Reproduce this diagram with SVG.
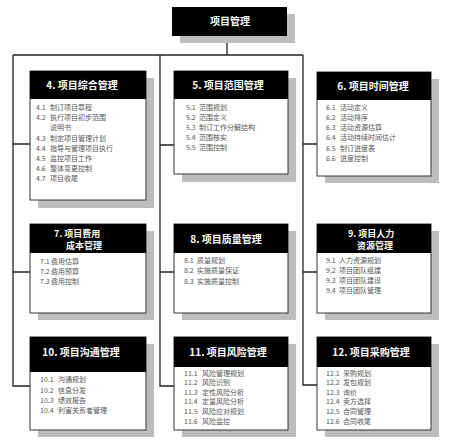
<svg xmlns="http://www.w3.org/2000/svg" width="450" height="447" viewBox="0 0 450 447">
<style>
.sh{fill:#bdbdbd}
.bd{fill:#fff;stroke:#333;stroke-width:1}
.hd{fill:#000}
.ht{font-family:"Noto Sans CJK SC","Noto Sans",sans-serif;font-size:10px;font-weight:bold;fill:#fff}
.h2{font-size:9px}
.it{font-family:"Noto Sans CJK SC","Noto Sans",sans-serif;font-size:7px;fill:#555}
.cn{fill:none;stroke:#222;stroke-width:1.3}
</style>
<rect width="450" height="447" fill="#fff"/>
<g id="connectors" class="cn">
<path d="M227,36V55M13,55H303"/>
<path d="M13,55V386H30M13,144H30M13,272H30"/>
<path d="M160,55V386H174M160,145H174M160,272H174"/>
<path d="M303,55V385H317M303,144H317M303,272H317"/>
</g>
<g id="root">
<rect class="sh" x="180" y="14" width="115" height="29"/>
<rect class="hd" x="172" y="7" width="115" height="29"/>
<text class="ht" x="230" y="25" text-anchor="middle" font-size="9">项目管理</text>
</g>
<g id="n4">
<rect class="sh" x="38" y="78" width="116" height="130"/>
<rect class="bd" x="30" y="71" width="116" height="129"/>
<rect class="hd" x="30" y="71" width="116" height="28"/>
<text class="ht" x="82" y="89" text-anchor="middle">4. 项目综合管理</text>
<g class="it">
<text x="36" y="110">4.1</text><text x="50" y="110">制订项目章程</text>
<text x="36" y="120">4.2</text><text x="50" y="120">执行项目初步范围</text>
<text x="50" y="130">说明书</text>
<text x="36" y="141">4.3</text><text x="50" y="141">制定项目管理计划</text>
<text x="36" y="151">4.4</text><text x="50" y="151">指导与管理项目执行</text>
<text x="36" y="161">4.5</text><text x="50" y="161">监控项目工作</text>
<text x="36" y="171">4.6</text><text x="50" y="171">整体变更控制</text>
<text x="36" y="181">4.7</text><text x="50" y="181">项目收尾</text>
</g>
</g>
<g id="n5">
<rect class="sh" x="182" y="78" width="114" height="104"/>
<rect class="bd" x="174" y="71" width="114" height="103"/>
<rect class="hd" x="174" y="71" width="114" height="28"/>
<text class="ht" x="228" y="89" text-anchor="middle">5. 项目范围管理</text>
<g class="it">
<text x="186" y="110">5.1</text><text x="199" y="110">范围规划</text>
<text x="186" y="120">5.2</text><text x="199" y="120">范围定义</text>
<text x="186" y="130">5.3</text><text x="199" y="130">制订工作分解结构</text>
<text x="186" y="140">5.4</text><text x="199" y="140">范围核实</text>
<text x="186" y="150">5.5</text><text x="199" y="150">范围控制</text>
</g>
</g>
<g id="n6">
<rect class="sh" x="325" y="79" width="114" height="104"/>
<rect class="bd" x="317" y="72" width="114" height="104"/>
<rect class="hd" x="317" y="72" width="114" height="28"/>
<text class="ht" x="373" y="90" text-anchor="middle">6. 项目时间管理</text>
<g class="it">
<text x="326" y="110">6.1</text><text x="340" y="110">活动定义</text>
<text x="326" y="120">6.2</text><text x="340" y="120">活动排序</text>
<text x="326" y="130">6.3</text><text x="340" y="130">活动资源估算</text>
<text x="326" y="140">6.4</text><text x="340" y="140">活动持续时间估计</text>
<text x="326" y="151">6.5</text><text x="340" y="151">制订进度表</text>
<text x="326" y="161">6.6</text><text x="340" y="161">进度控制</text>
</g>
</g>
<g id="n7">
<rect class="sh" x="38" y="231" width="116" height="89"/>
<rect class="bd" x="30" y="224" width="116" height="89"/>
<rect class="hd" x="30" y="224" width="116" height="29"/>
<text class="ht h2" x="54" y="237">7. 项目费用</text>
<text class="ht h2" x="66" y="248.5">成本管理</text>
<g class="it">
<text x="40" y="264">7.1</text><text x="51" y="264">费用估算</text>
<text x="40" y="274">7.2</text><text x="51" y="274">费用预算</text>
<text x="40" y="284">7.3</text><text x="51" y="284">费用控制</text>
</g>
</g>
<g id="n8">
<rect class="sh" x="182" y="231" width="114" height="89"/>
<rect class="bd" x="174" y="224" width="114" height="89"/>
<rect class="hd" x="174" y="224" width="114" height="29"/>
<text class="ht" x="226" y="243" text-anchor="middle">8. 项目质量管理</text>
<g class="it">
<text x="184" y="263">8.1</text><text x="197" y="263">质量规划</text>
<text x="184" y="273">8.2</text><text x="197" y="273">实施质量保证</text>
<text x="184" y="284">8.3</text><text x="197" y="284">实施质量控制</text>
</g>
</g>
<g id="n9">
<rect class="sh" x="325" y="231" width="114" height="89"/>
<rect class="bd" x="317" y="224" width="114" height="89"/>
<rect class="hd" x="317" y="224" width="114" height="29"/>
<text class="ht h2" x="348" y="237">9. 项目人力</text>
<text class="ht h2" x="357" y="248.5">资源管理</text>
<g class="it">
<text x="326" y="263">9.1</text><text x="339" y="263">人力资源规划</text>
<text x="326" y="273">9.2</text><text x="339" y="273">项目团队组建</text>
<text x="326" y="283">9.3</text><text x="339" y="283">项目团队建设</text>
<text x="326" y="293">9.4</text><text x="339" y="293">项目团队管理</text>
</g>
</g>
<g id="n10">
<rect class="sh" x="38" y="344" width="116" height="93"/>
<rect class="bd" x="30" y="337" width="116" height="93"/>
<rect class="hd" x="30" y="337" width="116" height="35"/>
<text class="ht" x="81" y="356" text-anchor="middle">10. 项目沟通管理</text>
<g class="it">
<text x="40" y="382">10.1</text><text x="58" y="382">沟通规划</text>
<text x="40" y="393">10.2</text><text x="58" y="393">信息分发</text>
<text x="40" y="403">10.3</text><text x="58" y="403">绩效报告</text>
<text x="40" y="413">10.4</text><text x="58" y="413">利害关系者管理</text>
</g>
</g>
<g id="n11">
<rect class="sh" x="182" y="344" width="114" height="93"/>
<rect class="bd" x="174" y="337" width="114" height="93"/>
<rect class="hd" x="174" y="337" width="114" height="30"/>
<text class="ht" x="228" y="356" text-anchor="middle">11. 项目风险管理</text>
<g class="it">
<text x="184" y="376">11.1</text><text x="202" y="376">风险管理规划</text>
<text x="184" y="385">11.2</text><text x="202" y="385">风险识别</text>
<text x="184" y="395">11.3</text><text x="202" y="395">定性风险分析</text>
<text x="184" y="404">11.4</text><text x="202" y="404">定量风险分析</text>
<text x="184" y="414">11.5</text><text x="202" y="414">风险应对规划</text>
<text x="184" y="424">11.6</text><text x="202" y="424">风险监控</text>
</g>
</g>
<g id="n12">
<rect class="sh" x="325" y="344" width="114" height="93"/>
<rect class="bd" x="317" y="337" width="114" height="93"/>
<rect class="hd" x="317" y="337" width="114" height="30"/>
<text class="ht" x="371" y="356" text-anchor="middle">12. 项目采购管理</text>
<g class="it">
<text x="326" y="376">12.1</text><text x="343" y="376">采购规划</text>
<text x="326" y="385">12.2</text><text x="343" y="385">发包规划</text>
<text x="326" y="395">12.3</text><text x="343" y="395">询价</text>
<text x="326" y="404">12.4</text><text x="343" y="404">卖方选择</text>
<text x="326" y="414">12.5</text><text x="343" y="414">合同管理</text>
<text x="326" y="424">12.6</text><text x="343" y="424">合同收尾</text>
</g>
</g>
</svg>
